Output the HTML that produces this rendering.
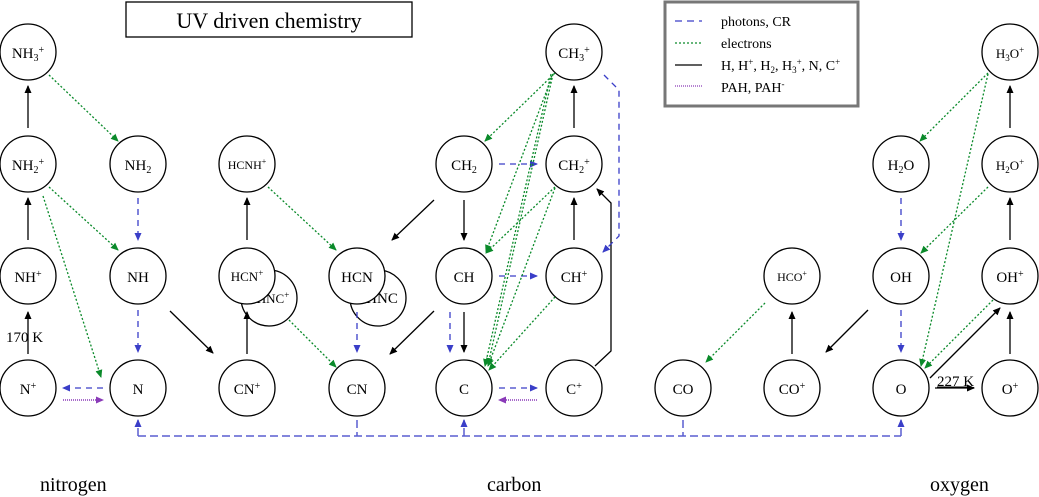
<!DOCTYPE html>
<html><head><meta charset="utf-8"><style>
body{margin:0;background:#fff}
svg{display:block}
text{font-family:"Liberation Serif",serif;fill:#000}
</style></head><body>
<svg width="1039" height="497" viewBox="0 0 1039 497" xmlns="http://www.w3.org/2000/svg">
<defs>
<marker id="k" markerWidth="8" markerHeight="8" refX="7" refY="4" orient="auto" markerUnits="userSpaceOnUse"><path d="M0,0.5 L8,4 L0,7.5z" fill="#000"/></marker>
<marker id="b" markerWidth="8" markerHeight="8" refX="7" refY="4" orient="auto" markerUnits="userSpaceOnUse"><path d="M0,0.5 L8,4 L0,7.5z" fill="#3a3ec8"/></marker>
<marker id="g" markerWidth="8" markerHeight="8" refX="7" refY="4" orient="auto" markerUnits="userSpaceOnUse"><path d="M0,0.5 L8,4 L0,7.5z" fill="#0a8a2a"/></marker>
<marker id="p" markerWidth="8" markerHeight="8" refX="7" refY="4" orient="auto" markerUnits="userSpaceOnUse"><path d="M0,0.5 L8,4 L0,7.5z" fill="#8a3ab8"/></marker>
</defs>
<rect x="126" y="2" width="286" height="35" fill="#fff" stroke="#000" stroke-width="1.3"/>
<text x="269" y="28" font-size="22" text-anchor="middle">UV driven chemistry</text>
<rect x="665" y="2" width="193" height="104" fill="#fff" stroke="#777" stroke-width="3"/>
<g stroke-width="1.3">
<line x1="675" y1="21" x2="702" y2="21" stroke="#3a3ec8" stroke-dasharray="7,5"/>
<line x1="675" y1="43" x2="702" y2="43" stroke="#0a8a2a" stroke-dasharray="2,2"/>
<line x1="675" y1="65" x2="702" y2="65" stroke="#000"/>
<line x1="675" y1="86" x2="702" y2="86" stroke="#8a3ab8" stroke-dasharray="1,1"/>
</g>
<g font-size="14">
<text x="721" y="26">photons, CR</text>
<text x="721" y="48">electrons</text>
<text x="721" y="70">H, H<tspan font-size="9" dy="-5">+</tspan><tspan dy="5">, H</tspan><tspan font-size="9" dy="3">2</tspan><tspan dy="-3">, H</tspan><tspan font-size="9" dy="3">3</tspan><tspan font-size="9" dy="-8">+</tspan><tspan dy="5">, N, C</tspan><tspan font-size="9" dy="-5">+</tspan></text>
<text x="721" y="92">PAH, PAH<tspan font-size="9" dy="-5">-</tspan></text>
</g>
<!-- circles -->
<g fill="#fff" stroke="#000" stroke-width="1.3">
<circle cx="269" cy="298" r="28"/><circle cx="378" cy="298" r="28"/>
</g>
<g font-size="15" text-anchor="middle">
<text x="273" y="303" font-size="13">HNC<tspan font-size="9" dy="-5">+</tspan></text>
<text x="382" y="303">HNC</text>
</g>
<g fill="#fff" stroke="#000" stroke-width="1.3">
<circle cx="28" cy="52" r="28"/><circle cx="574" cy="52" r="28"/><circle cx="1010" cy="52" r="28"/>
<circle cx="28" cy="164" r="28"/><circle cx="138" cy="164" r="28"/><circle cx="247" cy="164" r="28"/><circle cx="464" cy="164" r="28"/><circle cx="574" cy="164" r="28"/><circle cx="901" cy="164" r="28"/><circle cx="1010" cy="164" r="28"/>
<circle cx="28" cy="276" r="28"/><circle cx="138" cy="276" r="28"/><circle cx="247" cy="276" r="28"/><circle cx="357" cy="276" r="28"/><circle cx="464" cy="276" r="28"/><circle cx="574" cy="276" r="28"/><circle cx="792" cy="276" r="28"/><circle cx="901" cy="276" r="28"/><circle cx="1010" cy="276" r="28"/>
<circle cx="28" cy="388" r="28"/><circle cx="138" cy="388" r="28"/><circle cx="247" cy="388" r="28"/><circle cx="357" cy="388" r="28"/><circle cx="464" cy="388" r="28"/><circle cx="574" cy="388" r="28"/><circle cx="683" cy="388" r="28"/><circle cx="792" cy="388" r="28"/><circle cx="901" cy="388" r="28"/><circle cx="1010" cy="388" r="28"/>
</g>
<g font-size="15" text-anchor="middle">
<text x="28" y="58">NH<tspan font-size="10" dy="3">3</tspan><tspan font-size="10" dy="-8">+</tspan></text>
<text x="574" y="58">CH<tspan font-size="10" dy="3">3</tspan><tspan font-size="10" dy="-8">+</tspan></text>
<text x="1010" y="58" font-size="13">H<tspan font-size="9" dy="3">3</tspan><tspan dy="-3">O</tspan><tspan font-size="9" dy="-5">+</tspan></text>
<text x="28" y="170">NH<tspan font-size="10" dy="3">2</tspan><tspan font-size="10" dy="-8">+</tspan></text>
<text x="138" y="170">NH<tspan font-size="10" dy="3">2</tspan></text>
<text x="247" y="169" font-size="12">HCNH<tspan font-size="8" dy="-5">+</tspan></text>
<text x="464" y="170">CH<tspan font-size="10" dy="3">2</tspan></text>
<text x="574" y="170">CH<tspan font-size="10" dy="3">2</tspan><tspan font-size="10" dy="-8">+</tspan></text>
<text x="901" y="170">H<tspan font-size="10" dy="3">2</tspan><tspan dy="-3">O</tspan></text>
<text x="1010" y="170" font-size="13">H<tspan font-size="9" dy="3">2</tspan><tspan dy="-3">O</tspan><tspan font-size="9" dy="-5">+</tspan></text>
<text x="28" y="282">NH<tspan font-size="10" dy="-5">+</tspan></text>
<text x="138" y="282">NH</text>
<text x="247" y="281" font-size="13">HCN<tspan font-size="9" dy="-5">+</tspan></text>
<text x="357" y="282">HCN</text>
<text x="464" y="282">CH</text>
<text x="574" y="282">CH<tspan font-size="10" dy="-5">+</tspan></text>
<text x="792" y="281" font-size="12">HCO<tspan font-size="8" dy="-5">+</tspan></text>
<text x="901" y="282">OH</text>
<text x="1010" y="282">OH<tspan font-size="10" dy="-5">+</tspan></text>
<text x="28" y="394">N<tspan font-size="10" dy="-5">+</tspan></text>
<text x="138" y="394">N</text>
<text x="247" y="394">CN<tspan font-size="10" dy="-5">+</tspan></text>
<text x="357" y="394">CN</text>
<text x="464" y="394">C</text>
<text x="574" y="394">C<tspan font-size="10" dy="-5">+</tspan></text>
<text x="683" y="394">CO</text>
<text x="792" y="394">CO<tspan font-size="10" dy="-5">+</tspan></text>
<text x="901" y="394">O</text>
<text x="1010" y="394">O<tspan font-size="10" dy="-5">+</tspan></text>
</g>
<!-- black -->
<g stroke="#000" stroke-width="1.3" fill="none" marker-end="url(#k)">
<line x1="28" y1="128" x2="28" y2="86"/><line x1="28" y1="240" x2="28" y2="198"/><line x1="28" y1="354" x2="28" y2="312"/>
<line x1="170" y1="311" x2="213" y2="353"/>
<line x1="247" y1="354" x2="247" y2="312"/><line x1="247" y1="240" x2="247" y2="198"/>
<line x1="434" y1="200" x2="392" y2="240"/><line x1="434" y1="311" x2="390" y2="354"/>
<line x1="464" y1="200" x2="464" y2="240"/><line x1="464" y1="312" x2="464" y2="352"/>
<line x1="574" y1="240" x2="574" y2="198"/><line x1="574" y1="128" x2="574" y2="86"/>
<polyline points="595,366 611,351 611,203 597,189"/>
<line x1="792" y1="354" x2="792" y2="312"/>
<line x1="868" y1="310" x2="826" y2="352"/>
<line x1="930" y1="378" x2="1000" y2="308"/>
<line x1="935" y1="388" x2="974" y2="388"/>
<line x1="1010" y1="354" x2="1010" y2="312"/><line x1="1010" y1="240" x2="1010" y2="198"/><line x1="1010" y1="128" x2="1010" y2="86"/>
</g>
<text x="6" y="342" font-size="15">170 K</text>
<text x="937" y="386" font-size="15" text-decoration="underline">227 K</text>
<line x1="937" y1="387" x2="972" y2="387" stroke="#000" stroke-width="1"/>
<!-- blue -->
<g stroke="#3a3ec8" stroke-width="1.3" fill="none" stroke-dasharray="6,5" marker-end="url(#b)">
<line x1="138" y1="198" x2="138" y2="240"/><line x1="138" y1="310" x2="138" y2="352"/>
<line x1="103" y1="388" x2="63" y2="388"/>
<line x1="357" y1="312" x2="357" y2="352"/>
<line x1="450" y1="312" x2="450" y2="352"/>
<line x1="499" y1="164" x2="537" y2="164"/><line x1="499" y1="276" x2="537" y2="276"/><line x1="499" y1="388" x2="537" y2="388"/>
<polyline points="604,75 619,90 619,236 603,252"/>
<line x1="901" y1="198" x2="901" y2="240"/><line x1="901" y1="310" x2="901" y2="352"/>
</g>
<g stroke="#5a5ed0" stroke-width="1.5" fill="none" stroke-dasharray="8,4">
<polyline points="138,436 901,436"/>
<line x1="357" y1="420" x2="357" y2="436"/><line x1="683" y1="420" x2="683" y2="436"/>
</g>
<g stroke="#5a5ed0" stroke-width="1.5" fill="none" stroke-dasharray="8,4" marker-end="url(#b)">
<line x1="138" y1="436" x2="138" y2="420"/><line x1="464" y1="436" x2="464" y2="420"/><line x1="901" y1="436" x2="901" y2="420"/>
</g>
<!-- purple -->
<g stroke="#8a3ab8" stroke-width="1.5" fill="none" stroke-dasharray="1,1" marker-end="url(#p)">
<line x1="63" y1="400" x2="103" y2="400"/><line x1="537" y1="400" x2="499" y2="400"/>
</g>
<!-- green -->
<g stroke="#0a8a2a" stroke-width="1.3" fill="none" stroke-dasharray="2,2" marker-end="url(#g)">
<line x1="49" y1="75" x2="118" y2="141"/><line x1="49" y1="187" x2="118" y2="250"/><line x1="43" y1="196" x2="101" y2="377"/>
<line x1="268" y1="187" x2="336" y2="250"/><line x1="289" y1="320" x2="336" y2="367"/>
<line x1="555" y1="73" x2="485" y2="141"/><line x1="553" y1="74" x2="486" y2="252"/><line x1="553" y1="74" x2="488" y2="365"/><line x1="551" y1="74" x2="485" y2="366"/>
<line x1="555" y1="187" x2="486" y2="253"/><line x1="555" y1="188" x2="488" y2="366"/><line x1="555" y1="297" x2="489" y2="370"/>
<line x1="765" y1="303" x2="706" y2="362"/>
<line x1="988" y1="73" x2="920" y2="141"/><line x1="988" y1="74" x2="921" y2="366"/><line x1="988" y1="187" x2="921" y2="253"/><line x1="993" y1="300" x2="925" y2="368"/>
</g>
<g font-size="20">
<text x="40" y="491">nitrogen</text>
<text x="487" y="491">carbon</text>
<text x="930" y="491">oxygen</text>
</g>
</svg>
</body></html>
